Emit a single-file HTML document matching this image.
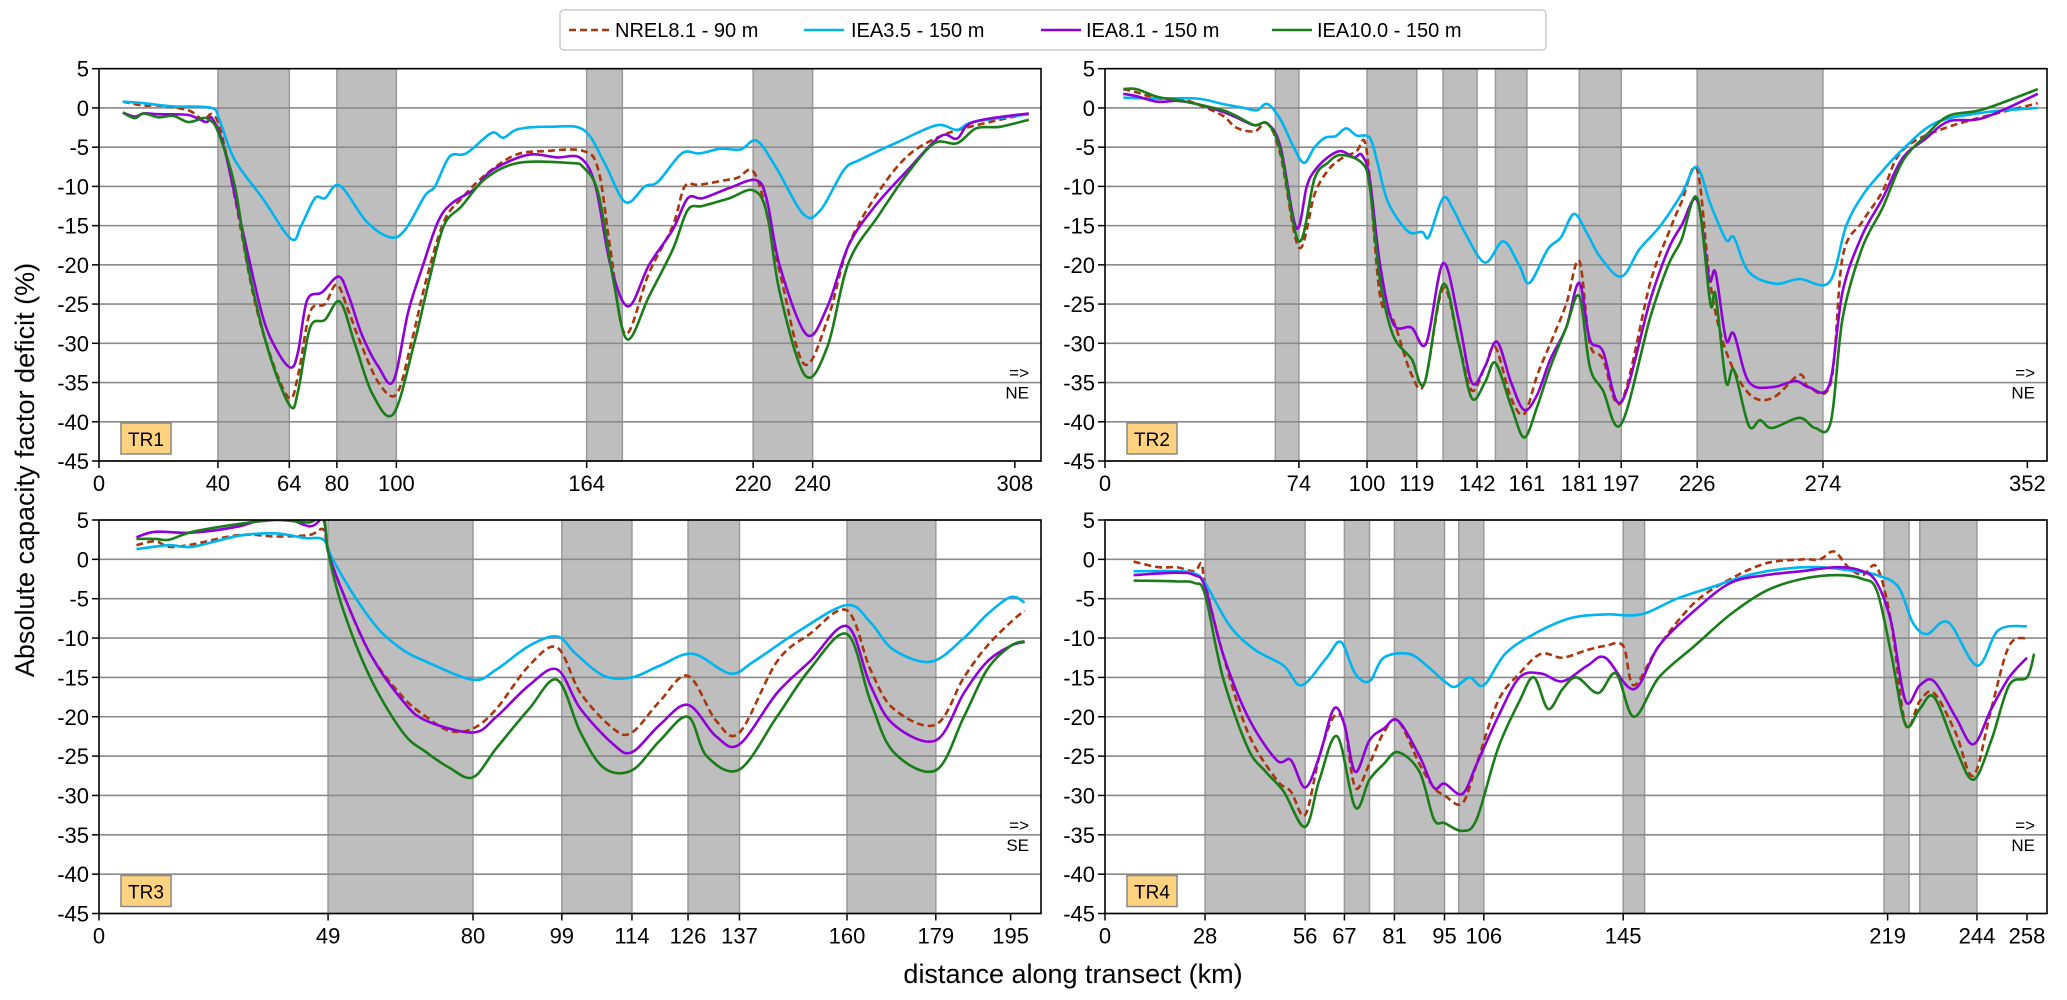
<!DOCTYPE html>
<html><head><meta charset="utf-8"><style>
html,body{margin:0;padding:0;background:#fff;}
svg{display:block;font-family:"Liberation Sans","DejaVu Sans",sans-serif;}
</style></head><body>
<svg id="fig" width="2067" height="1000" viewBox="0 0 2067 1000" xmlns="http://www.w3.org/2000/svg">
<text x="34" y="470" font-size="27" text-anchor="middle" transform="rotate(-90 34 470)">Absolute capacity factor deficit (%)</text>
<text x="1073" y="983" font-size="27" text-anchor="middle">distance along transect (km)</text>
<g>
<rect x="560" y="10" width="986" height="40" rx="4" fill="#fff" stroke="#ccc" stroke-width="1.5"/>
<g><line x1="569" y1="30" x2="609" y2="30" stroke="#a8360e" stroke-width="2.5" stroke-dasharray="7,4"/><text x="615" y="37" font-size="20">NREL8.1 - 90 m</text></g>
<g><line x1="804" y1="30" x2="844" y2="30" stroke="#00b4f0" stroke-width="2.5"/><text x="851" y="37" font-size="20">IEA3.5 - 150 m</text></g>
<g><line x1="1041" y1="30" x2="1081" y2="30" stroke="#9000d8" stroke-width="2.5"/><text x="1086" y="37" font-size="20">IEA8.1 - 150 m</text></g>
<g><line x1="1272" y1="30" x2="1312" y2="30" stroke="#1a7d1a" stroke-width="2.5"/><text x="1317" y="37" font-size="20">IEA10.0 - 150 m</text></g>
</g>
</svg>
<script>
// ---- data ----
const yTicks=[5,0,-5,-10,-15,-20,-25,-30,-35,-40,-45];
const tr1Ticks=[0,40,64,80,100,164,220,240,308];
const tr2Ticks=[0,74,100,119,142,161,181,197,226,274,352];
const tr3Ticks=[0,49,80,99,114,126,137,160,179,195];
const tr4Ticks=[0,28,56,67,81,95,106,145,219,244,258];
const tr1Shades=[[40,64],[80,100],[164,176],[220,240]];
const tr2Shades=[[65,74],[100,119],[129,142],[149,161],[181,197],[226,274]];
const tr3Shades=[[49,80],[99,114],[126,137],[160,179]];
const tr4Shades=[[28,56],[67,74],[81,95],[99,106],[145,151],[218,225],[228,244]];

const tr1Cyan=[[8,0.8],[15,0.6],[25,0.2],[37.7,0],[40.5,-1.5],[45.6,-6.6],[55,-11.5],[64.6,-16.7],[68,-15],[72.6,-11.5],[76,-11.5],[81,-9.9],[90,-14.5],[98,-16.5],[103,-15.5],[109.6,-11.2],[113,-10],[117.9,-6.2],[123.5,-5.8],[132,-3.2],[136,-3.8],[141,-2.7],[152,-2.4],[163,-2.8],[170,-7],[177,-12],[183.6,-10],[188,-9.4],[196,-5.8],[202,-5.8],[209,-5.2],[215.7,-5.3],[221.3,-4.2],[228,-7.8],[237,-13.6],[242.7,-13],[250.5,-7.9],[256,-6.6],[269.5,-4.2],[281.8,-2.2],[288.6,-2.8],[294,-1.8],[312.7,-0.8]];
const tr1Purple=[[8,-0.6],[12,-1.1],[15,-0.7],[20,-0.8],[30,-0.9],[36,-1.8],[38,-1.3],[42,-5],[48,-15.1],[55,-26.5],[60,-31],[64.6,-33.1],[67,-31],[70,-24.5],[75,-23.5],[80.6,-21.5],[84,-24],[88.5,-29],[94,-33],[99,-34.8],[104,-26],[109,-20],[114,-14.5],[118.5,-12.2],[126.4,-10.3],[132,-8],[144,-6],[154,-6.3],[162,-6.4],[167,-10],[172,-20],[178,-25.3],[185,-20],[193,-15.5],[198,-11.5],[203,-11.5],[212,-10.2],[221,-9.2],[224.6,-11.7],[229,-20.2],[238,-28.9],[245,-25.3],[252,-17.6],[261,-12.5],[272,-7.9],[283,-3.6],[288.6,-3.9],[294,-1.8],[312.7,-0.7]];
const tr1Green=[[8,-0.6],[12,-1.3],[15,-0.7],[20,-1.2],[25,-1],[30,-1.8],[35,-1.3],[37,-1.5],[40,-3],[45.7,-10],[50,-20],[57,-31],[64.3,-38],[67,-36],[71,-28],[76,-27],[81,-24.7],[86,-30],[92,-36.5],[99,-39],[106,-30],[111,-22],[116,-15],[122,-12.5],[130,-9],[141,-7],[158,-7],[163,-7.6],[168,-11],[173,-22],[177.7,-29.5],[185,-24],[193,-18],[198,-13],[203,-12.5],[212,-11.5],[220,-10.5],[224.6,-13.4],[229,-23.6],[237.5,-34.1],[245,-30.4],[252,-19.8],[262,-13.8],[272,-8.3],[281,-4.5],[288.6,-4.5],[295,-2.6],[303,-2.4],[312.7,-1.5]];
const tr1Nrel=[[8,0.8],[15,0.3],[20,0.3],[30,-0.3],[35,-1.5],[38,-0.8],[41,-3],[46,-12],[52,-24],[58,-32],[64,-37],[67,-34],[71,-26],[76,-25],[80,-22.5],[84,-26],[88,-30],[94,-35],[100,-36.5],[105,-30],[110,-22],[116,-14.5],[122,-11.5],[130,-8.5],[140,-6],[150,-5.5],[163,-5.5],[168,-8],[172,-18],[177,-28.8],[185,-21],[193,-15],[197,-10],[202,-9.8],[214,-9],[221,-8.7],[229,-21],[237,-32.6],[245,-27],[252,-17.6],[262,-10.8],[272,-6.1],[283,-3.6],[294,-2.3],[312.7,-0.7]];

const tr2Cyan=[[7,1.3],[20,1.2],[35,1.2],[45,0.5],[53,0],[58,-0.3],[62,0.5],[67,-1.5],[72,-5],[76,-7],[80,-5],[84,-3.8],[88,-3.6],[92,-2.6],[96,-3.5],[101,-3.8],[104,-7],[108,-12],[115.5,-15.7],[121,-15.8],[123.6,-16.4],[129,-11.5],[133,-13],[137.5,-16],[145,-19.7],[152,-17],[158,-20],[162,-22.3],[169,-18],[174,-16.5],[179,-13.5],[184,-16],[189,-19],[197,-21.5],[204,-18],[212,-15],[220,-11],[225.8,-7.5],[231,-12.2],[237,-16.8],[240,-16.5],[245.7,-20.9],[255.8,-22.4],[265,-21.8],[276.4,-22.2],[282.8,-15.1],[289,-11.2],[295.5,-8.5],[304.4,-5.3],[317,-1.9],[335,-0.6],[356,0]];
const tr2Purple=[[7,1.8],[12,1.5],[20,0.8],[28,0.9],[35,0.5],[45,-0.5],[50,-1.2],[57,-2.2],[62,-2],[67,-5],[73,-15.3],[77,-10],[80,-8],[85,-6.3],[90,-5.5],[95,-6.3],[98,-6],[101,-9],[105,-20],[110,-27.5],[117,-28],[122.6,-30],[129,-19.8],[135,-27],[140,-35],[145,-33],[149.6,-29.8],[155,-35],[160,-38.5],[165,-36.5],[170,-32],[176,-28],[181,-22.3],[185,-29.5],[190,-31],[197,-37.5],[208,-24.6],[215,-18],[220,-15],[226,-11.8],[230.5,-21.7],[233,-21],[237,-29.5],[240,-28.8],[245.7,-34.9],[254.6,-35.6],[263.5,-34.8],[268.6,-35.6],[276.4,-35.3],[281.5,-23.4],[289,-16.2],[296.8,-11.5],[304.4,-6.4],[313.3,-3.9],[322,-1.7],[335,-1.3],[356,1.8]];
const tr2Green=[[7,2.4],[12,2.4],[20,1.4],[28,1],[35,0.5],[45,-0.3],[50,-1],[57,-2.2],[62,-2],[67,-5.5],[74,-17],[80,-9],[85,-7],[90,-6],[98,-7],[101,-10],[105,-22],[110,-29],[117,-32],[122,-35],[129,-22.5],[135,-30],[140,-37],[145,-35],[149,-32.5],[155,-38],[160,-42],[165,-38],[170,-33],[176,-28],[181,-24],[185,-33],[190,-36],[197,-40.3],[208,-26.8],[215,-20],[220,-16.8],[226,-11.5],[231,-24.9],[233,-23.8],[237,-34.9],[240,-33.4],[245.7,-40.5],[250,-39.8],[254.6,-40.8],[265,-39.5],[271,-40.8],[277,-40],[281.5,-26.8],[289,-17.8],[296.8,-12.7],[304.4,-6.8],[313.3,-3.5],[322,-1],[335,-0.2],[356,2.4]];
const tr2Nrel=[[7,2.4],[12,2],[20,1.2],[28,1.2],[35,0.5],[45,-1],[50,-2.5],[57,-3],[62,-2],[67,-6],[74,-17.8],[80,-11],[85,-8],[90,-6.5],[96,-5.5],[99,-4.2],[101,-9],[105,-24],[110,-27],[117,-34],[122,-35],[129,-23],[135,-30],[140,-36],[145,-33],[149,-30.5],[155,-37],[160,-39],[165,-34],[170,-30],[176,-25],[181,-19.5],[185,-30],[190,-32],[197,-37.5],[208,-22.4],[215,-16],[220,-12],[226,-7.9],[231,-22.4],[237,-31],[245.7,-36.4],[254.6,-37],[265,-34],[268.6,-35.6],[277,-35],[281.5,-19],[289,-14.5],[296.8,-10.6],[304.4,-5.4],[322,-2.4],[356,0.6]];

const tr3Cyan=[[8,1.3],[15,1.8],[20,1.6],[30,3],[38,3.3],[44,2.7],[48,2.5],[50,0],[55,-5],[60,-9],[65,-11.5],[70,-13],[80,-15.3],[85,-14],[92,-11],[98,-9.8],[102,-12],[108,-14.8],[114,-15],[120,-13.5],[127,-12],[135,-14.5],[140,-13],[150,-9],[160,-5.8],[165,-8],[170,-11.5],[178,-13],[185,-10],[190,-7],[195,-4.8],[198,-5.5]];
const tr3Purple=[[8,2.8],[12,3.5],[20,3.4],[30,4.2],[38,5.5],[45,4.2],[48,5],[49,1],[52,-4],[58,-12],[65,-18],[70,-20.5],[80,-22],[85,-20],[92,-16],[98,-14],[103,-19],[110,-23.5],[114,-24.5],[120,-21],[126,-18.5],[132,-22.5],[137,-23.5],[145,-17],[152,-13],[160,-8.5],[165,-16],[170,-21],[179,-23],[185,-17],[190,-13],[195,-11],[198,-10.5]];
const tr3Green=[[8,2.6],[12,2.6],[15,2.5],[20,3.5],[30,4.5],[38,5],[45,4.7],[48,5.5],[49,1],[52,-6],[58,-15],[65,-22],[70,-24.5],[75,-26.5],[80,-27.7],[85,-24],[92,-19],[98,-15.3],[103,-22],[108,-26.5],[114,-26.8],[120,-23],[126,-20],[130,-25],[137,-26.7],[145,-20],[152,-14],[160,-9.5],[165,-18],[170,-24.5],[179,-26.8],[185,-20],[190,-14],[195,-11],[198,-10.4]];
const tr3Nrel=[[8,1.8],[12,2.3],[15,1.6],[20,1.9],[30,3.1],[38,2.9],[45,3.1],[48,3.8],[49,1],[52,-4],[58,-12],[65,-17.5],[70,-20],[75,-21.8],[80,-21.5],[85,-19],[92,-13.5],[98,-11.2],[103,-17],[110,-21.5],[114,-22],[120,-18],[126,-14.8],[132,-20.5],[137,-22],[145,-13],[152,-9.5],[160,-6.5],[165,-14],[170,-19],[179,-21],[185,-15],[190,-11],[195,-8],[198,-6.5]];

const tr4Cyan=[[8,-1.5],[20,-1.5],[25,-1.8],[28,-3],[35,-8.5],[42,-11.5],[50,-13.5],[55,-16],[62,-12.5],[66,-10.5],[70,-14.5],[74,-15.5],[78,-12.5],[85,-12],[90,-13.5],[95,-15.5],[98,-16.2],[102,-15],[106,-16],[112,-12],[120,-9.5],[130,-7.5],[140,-7],[150,-7],[160,-5],[170,-3.5],[180,-2],[190,-1.2],[200,-1],[210,-1.5],[216,-2],[222,-3.5],[226,-8],[230,-9.5],[236,-8],[244,-13.5],[250,-9],[258,-8.5]];
const tr4Purple=[[8,-2],[20,-1.7],[25,-2],[28,-3.5],[33,-12],[40,-20],[48,-25.5],[52,-25.5],[56,-29],[60,-25],[64,-19],[67,-21],[70,-27],[74,-23],[78,-21.5],[82,-20.5],[88,-25],[92,-29],[95,-28.5],[100,-29.8],[104,-26],[110,-20],[116,-15],[122,-14.5],[128,-15.5],[135,-13.5],[140,-12.5],[148,-16.5],[155,-11],[165,-6.5],[175,-3],[185,-2],[195,-1.5],[205,-1],[212,-1.5],[216,-3],[220,-8],[224,-18],[228,-16],[232,-15.5],[238,-20],[243,-23.5],[248,-19],[253,-15],[258,-12.5]];
const tr4Green=[[8,-2.7],[20,-2.8],[25,-3],[28,-4.5],[33,-15],[40,-24],[45,-27],[50,-29.5],[56,-34],[60,-28],[65,-22.5],[70,-31.5],[74,-28],[78,-26],[82,-24.5],[88,-27],[92,-33],[95,-33.5],[100,-34.5],[104,-33],[110,-24],[116,-18],[120,-15],[124,-19],[128,-16.5],[132,-15],[138,-17],[143,-14.5],[148,-20],[155,-15],[165,-11],[175,-7],[185,-4],[195,-2.5],[205,-2],[212,-2.5],[216,-4],[220,-12],[224,-21],[228,-19],[232,-17.5],[238,-24],[243,-28],[248,-23],[253,-16],[258,-15],[260,-12]];
const tr4Nrel=[[8,-0.3],[15,-1],[20,-1],[25,-1.5],[27,-0.5],[28,-3],[33,-12],[40,-22],[48,-28],[52,-29.5],[56,-32.5],[60,-25],[64,-20],[67,-21],[70,-29],[74,-26],[78,-22],[82,-20.5],[88,-26],[92,-29],[95,-30],[100,-31],[104,-26],[110,-18],[116,-14.5],[122,-12],[128,-12.5],[135,-11.5],[140,-11],[145,-11],[148,-16],[155,-11],[165,-5.5],[175,-2.5],[185,-0.5],[195,0],[200,0],[204,1],[208,-1],[212,-2],[216,-1],[220,-8],[224,-21],[228,-18],[232,-17],[238,-22],[243,-27.5],[248,-19],[253,-11],[258,-10]];

// ---- layout ----
const NS='http://www.w3.org/2000/svg';
const svg=document.getElementById('fig');
function mk(tag,attrs,parent){const e=document.createElementNS(NS,tag);for(const k in attrs)e.setAttribute(k,attrs[k]);(parent||svg).appendChild(e);return e;}
const panels=[
 {id:'tr1',x0:99,x1:1041,y0:68.7,y1:461,kmax:316.8,ticks:tr1Ticks,shades:tr1Shades,series:[tr1Nrel,tr1Cyan,tr1Purple,tr1Green],dir:'NE'},
 {id:'tr2',x0:1105,x1:2047,y0:68.7,y1:461,kmax:359.5,ticks:tr2Ticks,shades:tr2Shades,series:[tr2Nrel,tr2Cyan,tr2Purple,tr2Green],dir:'NE'},
 {id:'tr3',x0:99,x1:1041,y0:520,y1:913.5,kmax:201.5,ticks:tr3Ticks,shades:tr3Shades,series:[tr3Nrel,tr3Cyan,tr3Purple,tr3Green],dir:'SE'},
 {id:'tr4',x0:1105,x1:2047,y0:520,y1:913.5,kmax:263.6,ticks:tr4Ticks,shades:tr4Shades,series:[tr4Nrel,tr4Cyan,tr4Purple,tr4Green],dir:'NE'}
];
const styles=[{c:'#a8360e',d:'7,4',n:'nrel81-line'},{c:'#00b4f0',d:'',n:'iea35-line'},{c:'#9000d8',d:'',n:'iea81-line'},{c:'#1a7d1a',d:'',n:'iea10-line'}];
function smoothPath(pts){
 let d='M'+pts[0][0].toFixed(1)+','+pts[0][1].toFixed(1);
 for(let i=0;i<pts.length-1;i++){
  const p0=pts[Math.max(0,i-1)],p1=pts[i],p2=pts[i+1],p3=pts[Math.min(pts.length-1,i+2)];
  const c1=[p1[0]+(p2[0]-p0[0])/6,p1[1]+(p2[1]-p0[1])/6],c2=[p2[0]-(p3[0]-p1[0])/6,p2[1]-(p3[1]-p1[1])/6];
  d+=' C'+c1[0].toFixed(1)+','+c1[1].toFixed(1)+' '+c2[0].toFixed(1)+','+c2[1].toFixed(1)+' '+p2[0].toFixed(1)+','+p2[1].toFixed(1);
 }
 return d;
}
panels.forEach(p=>{
 const xs=k=>p.x0+k/p.kmax*(p.x1-p.x0);
 const ys=v=>p.y0+(5-v)/50*(p.y1-p.y0);
 const g=mk('g',{});
 
 
 mk('clipPath',{id:'clip-'+p.id},g);
 mk('rect',{x:p.x0,y:p.y0,width:p.x1-p.x0,height:p.y1-p.y0},g.lastChild);
 p.shades.forEach(s=>{
  const r=mk('rect',{x:xs(s[0]),y:p.y0,width:xs(s[1])-xs(s[0]),height:p.y1-p.y0,fill:'#bebebe',stroke:'#9a9a9a','stroke-width':1.5},g);
  
  
 });
 yTicks.forEach(v=>{
  const l=mk('line',{x1:p.x0,x2:p.x1,y1:ys(v),y2:ys(v),stroke:'#8a8a8a','stroke-width':1.6},g);
  
  
  mk('line',{x1:p.x0-7,x2:p.x0,y1:ys(v),y2:ys(v),stroke:'#000','stroke-width':1.5},g);
  const t=mk('text',{x:p.x0-10,y:ys(v)+8,'font-size':22,'text-anchor':'end'},g);
  t.textContent=String(v);
  
  
 });
 p.ticks.forEach(k=>{
  mk('line',{x1:xs(k),x2:xs(k),y1:p.y1,y2:p.y1+7,stroke:'#000','stroke-width':1.5},g);
  const t=mk('text',{x:xs(k),y:p.y1+30,'font-size':22,'text-anchor':'middle'},g);
  t.textContent=String(k);
  
  
 });
 p.series.forEach((s,i)=>{
  const pts=s.map(q=>[xs(q[0]),ys(q[1])]);
  const path=mk('path',{d:smoothPath(pts),fill:'none',stroke:styles[i].c,'stroke-width':2.6,'stroke-dasharray':styles[i].d,'clip-path':'url(#clip-'+p.id+')','stroke-linejoin':'round'},g);
  
  
 });
 mk('rect',{x:p.x0,y:p.y0,width:p.x1-p.x0,height:p.y1-p.y0,fill:'none',stroke:'#000','stroke-width':1.6},g);
 const bx=p.x0+22,by=p.y1-38;
 const box=mk('rect',{x:bx,y:by,width:50,height:31,fill:'#ffd27f',stroke:'#888','stroke-width':1.5},g);
 
 
 const lt=mk('text',{x:bx+25,y:by+23,'font-size':19,'text-anchor':'middle'},g);
 lt.textContent=p.id.toUpperCase();
 
 
 const a1=mk('text',{x:p.x1-12,y:p.y0+(p.y1-p.y0)*0.79,'font-size':17,'text-anchor':'end'},g);
 a1.textContent='=>';
 
 
 const a2=mk('text',{x:p.x1-12,y:p.y0+(p.y1-p.y0)*0.79+20,'font-size':17,'text-anchor':'end'},g);
 a2.textContent=p.dir;
 
 
});
</script>
</body></html>
